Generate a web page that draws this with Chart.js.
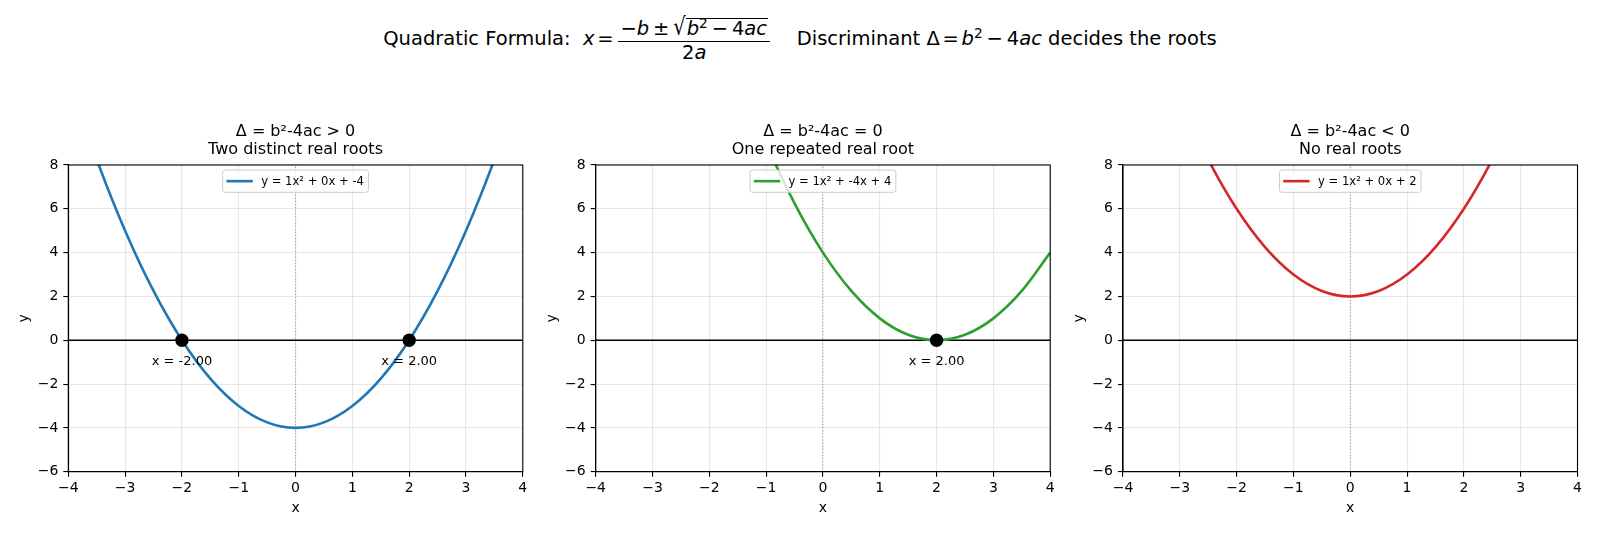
<!DOCTYPE html>
<html>
<head>
<meta charset="utf-8">
<script src="https://cdn.jsdelivr.net/npm/chart.js@4.4.1/dist/chart.umd.min.js"></script>
<style>
html,body{margin:0;padding:0;background:#fff;}
#page{position:relative;width:1600px;height:533px;overflow:hidden;background:#fff;font-family:'DejaVu Sans',sans-serif;}
canvas.panel{position:absolute;left:0;top:0;}
#sup{position:absolute;left:0;top:16px;width:1600px;text-align:center;font-size:19.5px;line-height:46px;color:#000;white-space:nowrap;font-family:'DejaVu Sans',sans-serif;}
#sup i{font-style:italic;}
#sup sup{font-size:0.7em;line-height:0;vertical-align:0.55em;}
.rel{display:inline-block;margin:0 0.14em;}
.bin{display:inline-block;margin:0 0.2em;}
.frac{display:inline-flex;flex-direction:column;align-items:center;vertical-align:middle;position:relative;top:1px;margin:0 2px 0 2px;}
.num{border-bottom:1px solid #000;line-height:22px;padding:0 2px 1px 2px;}
.den{line-height:22px;}
.rad{display:inline-block;border-top:1px solid #000;line-height:19px;padding:0 1px 0 1px;}
.radsign{display:inline-block;transform:scaleY(1.25);transform-origin:50% 70%;}
</style>
</head>
<body>
<div id="page">
  <div id="sup">Quadratic Formula:&nbsp;&nbsp;<i>x</i><span class="rel">=</span><span class="frac"><span class="num">&minus;<i>b</i><span class="bin">&plusmn;</span><span class="radsign">&radic;</span><span class="rad"><i>b</i><sup>2</sup><span class="bin">&minus;</span>4<i>ac</i></span></span><span class="den">2<i>a</i></span></span>&nbsp;&nbsp;&nbsp;&nbsp;Discriminant <span>&Delta;</span><span class="rel">=</span><i>b</i><sup>2</sup><span class="bin">&minus;</span>4<i>ac</i> decides the roots</div>
  <canvas id="c1" class="panel" width="1600" height="533"></canvas>
  <canvas id="c2" class="panel" width="1600" height="533"></canvas>
  <canvas id="c3" class="panel" width="1600" height="533"></canvas>
</div>
<script>
// ---------------- data ----------------
const xValues   = [-4, -3.5, -3, -2.5, -2, -1.5, -1, -0.5, 0, 0.5, 1, 1.5, 2, 2.5, 3, 3.5, 4];
const yPositive = [12, 8.25, 5, 2.25, 0, -1.75, -3, -3.75, -4, -3.75, -3, -1.75, 0, 2.25, 5, 8.25, 12];      // y = x^2 - 4
const yZero     = [36, 30.25, 25, 20.25, 16, 12.25, 9, 6.25, 4, 2.25, 1, 0.25, 0, 0.25, 1, 2.25, 4];       // y = x^2 - 4x + 4
const yNegative = [18, 14.25, 11, 8.25, 6, 4.25, 3, 2.25, 2, 2.25, 3, 4.25, 6, 8.25, 11, 14.25, 18];      // y = x^2 + 2
const rootsPositive = [-2, 2];
const rootsZero     = [2];
const rootsNegative = [];
const xTicks = [-4, -3, -2, -1, 0, 1, 2, 3, 4];
const yTicks = [-6, -4, -2, 0, 2, 4, 6, 8];
const panelTitles = [
  ['Δ = b²-4ac > 0', 'Two distinct real roots'],
  ['Δ = b²-4ac = 0', 'One repeated real root'],
  ['Δ = b²-4ac < 0', 'No real roots']
];
const legendLabels = ['y = 1x² + 0x + -4', 'y = 1x² + -4x + 4', 'y = 1x² + 0x + 2'];
const seriesColors = ['#1f77b4', '#2ca02c', '#d62728'];

// ---------------- layout ----------------
const FONT = "'DejaVu Sans', sans-serif";
const PANEL_LEFTS = [68.3, 595.7, 1123];
const PANEL_W = 454.5;
const AREA_BOTTOM = 471.7;
const Y_AXIS_W = 56;
const X_AXIS_H = 50;

const fmt = v => String(v).replace('-', '\u2212');

function makePanel(id, idx, ys, roots) {
  const color = seriesColors[idx];
  const label = legendLabels[idx];
  const left = PANEL_LEFTS[idx];
  const xMin = xTicks[0], xMax = xTicks[xTicks.length - 1];
  const yMin = yTicks[0], yMax = yTicks[yTicks.length - 1];

  const framePlugin = {
    id: 'frame' + idx,
    afterDatasetsDraw(chart) {
      const {ctx, chartArea: a} = chart;
      ctx.save();
      ctx.strokeStyle = '#000';
      ctx.lineWidth = 1.1;
      ctx.strokeRect(a.left, a.top, a.right - a.left, a.bottom - a.top);
      const xs = chart.scales.x, yS = chart.scales.y;
      ctx.fillStyle = '#000';
      ctx.font = '13px ' + FONT;
      ctx.textAlign = 'center';
      ctx.textBaseline = 'middle';
      roots.forEach(r => {
        ctx.fillText('x = ' + r.toFixed(2), xs.getPixelForValue(r), yS.getPixelForValue(0) + 21.5);
      });
      ctx.restore();
    },
    afterDraw(chart) {
      const {ctx, chartArea: a} = chart;
      ctx.save();
      ctx.font = '11.6px ' + FONT;
      const tw = ctx.measureText(label).width;
      const padL = 3.8, lineLen = 26.3, gap = 8.4, padR = 4.5;
      const w = padL + lineLen + gap + tw + padR;
      const h = 22.3;
      const cx = (a.left + a.right) / 2;
      const bx = cx - w / 2, by = a.top + 5;
      ctx.beginPath();
      ctx.roundRect(bx, by, w, h, 2.5);
      ctx.fillStyle = 'rgba(255,255,255,0.8)';
      ctx.fill();
      ctx.strokeStyle = '#cccccc';
      ctx.lineWidth = 1;
      ctx.stroke();
      const ly = by + h / 2;
      ctx.beginPath();
      ctx.moveTo(bx + padL, ly);
      ctx.lineTo(bx + padL + lineLen, ly);
      ctx.strokeStyle = color;
      ctx.lineWidth = 2.6;
      ctx.stroke();
      ctx.fillStyle = '#000';
      ctx.textAlign = 'left';
      ctx.textBaseline = 'middle';
      ctx.fillText(label, bx + padL + lineLen + gap, ly + 0.5);
      ctx.restore();
    }
  };

  const gridCommon = {
    color: 'rgba(176,176,176,0.3)',
    lineWidth: 1.1,
    tickColor: '#000',
    tickLength: 5,
    tickWidth: 1.1,
    drawTicks: true
  };

  return new Chart(document.getElementById(id), {
    type: 'line',
    data: {
      datasets: [
        {
          label: label,
          data: xValues.map((x, i) => ({x: x, y: ys[i]})),
          borderColor: color,
          borderWidth: 2.6,
          pointRadius: 0,
          cubicInterpolationMode: 'monotone',
          fill: false,
          order: 1
        },
        {
          label: 'roots',
          data: roots.map(r => ({x: r, y: 0})),
          showLine: false,
          pointRadius: 6.7,
          pointBackgroundColor: '#000',
          pointBorderColor: '#000',
          pointBorderWidth: 0,
          order: 0
        },
        {
          label: 'y = 0',
          data: [{x: xMin, y: 0}, {x: xMax, y: 0}],
          borderColor: '#000',
          borderWidth: 1.4,
          pointRadius: 0,
          order: 2
        },
        {
          label: 'x = 0',
          data: [{x: 0, y: yMin}, {x: 0, y: yMax}],
          borderColor: 'rgba(128,128,128,0.65)',
          borderWidth: 1.1,
          borderDash: [1.2, 1.9],
          pointRadius: 0,
          order: 3
        }
      ]
    },
    options: {
      responsive: false,
      animation: false,
      devicePixelRatio: 1,
      events: [],
      layout: {
        padding: {
          left: left - Y_AXIS_W,
          right: 1600 - (left + PANEL_W),
          top: 122.5,
          bottom: 533 - AREA_BOTTOM - X_AXIS_H
        }
      },
      scales: {
        x: {
          type: 'linear',
          min: xMin, max: xMax,
          afterFit(s) { s.height = X_AXIS_H; },
          afterBuildTicks(s) { s.ticks = xTicks.map(v => ({value: v})); },
          ticks: {
            font: {family: FONT, size: 14}, color: '#000', padding: 3,
            maxRotation: 0, autoSkip: false,
            callback: v => fmt(v)
          },
          grid: gridCommon,
          border: {display: true, color: '#000', width: 1.1},
          title: {display: true, text: 'x', font: {family: FONT, size: 14}, color: '#000', padding: {top: 0, bottom: 5}}
        },
        y: {
          type: 'linear',
          min: yMin, max: yMax,
          afterFit(s) { s.width = Y_AXIS_W; },
          afterBuildTicks(s) { s.ticks = yTicks.map(v => ({value: v})); },
          ticks: {
            font: {family: FONT, size: 14}, color: '#000', padding: 5,
            autoSkip: false,
            callback: v => fmt(v)
          },
          grid: gridCommon,
          border: {display: true, color: '#000', width: 1.1},
          title: {display: true, text: 'y', font: {family: FONT, size: 14}, color: '#000', padding: {top: 4, bottom: 0}}
        }
      },
      plugins: {
        legend: {display: false},
        tooltip: {enabled: false},
        title: {
          display: true,
          text: panelTitles[idx],
          fullSize: false,
          color: '#000',
          font: {family: FONT, size: 16, weight: 'normal', lineHeight: 1.15},
          padding: {top: 0, bottom: 5.7}
        }
      }
    },
    plugins: [framePlugin]
  });
}

makePanel('c1', 0, yPositive, rootsPositive);
makePanel('c2', 1, yZero, rootsZero);
makePanel('c3', 2, yNegative, rootsNegative);
</script>
</body>
</html>
